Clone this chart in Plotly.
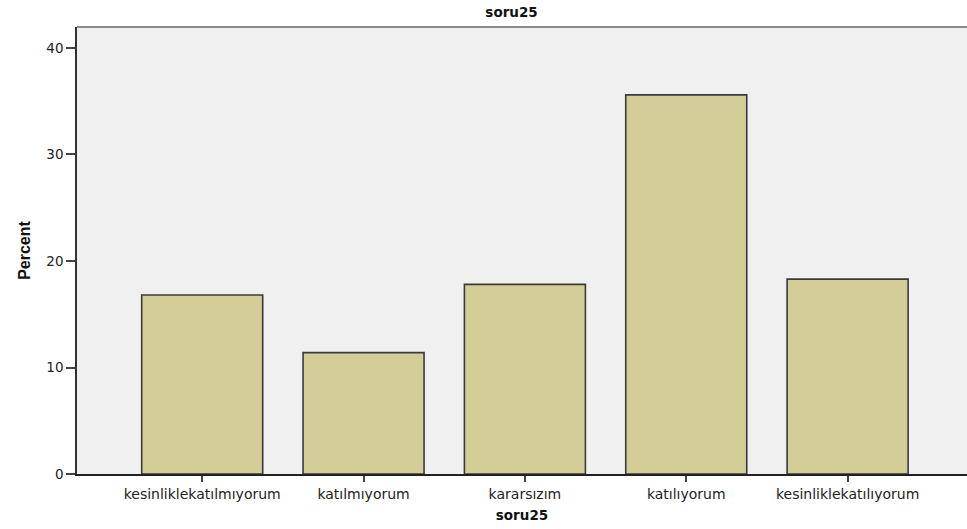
import plotly.graph_objects as go

categories = ["kesinliklekatılmıyorum", "katılmıyorum", "kararsızım", "katılıyorum", "kesinliklekatılıyorum"]
percent = [16.8, 11.4, 17.8, 35.6, 18.3]
y_ticks = [0, 10, 20, 30, 40]

fig = go.Figure(go.Bar(
    x=list(range(len(categories))),
    y=percent,
    width=0.75,
    marker=dict(color="#d3cd97", line=dict(color="#3a3a3a", width=1.6)),
))

fig.update_layout(
    width=967, height=529,
    margin=dict(l=77, r=0, t=27, b=55),
    paper_bgcolor="white",
    plot_bgcolor="#f0f0f0",
    font=dict(family="DejaVu Sans, sans-serif", color="#222"),
    title=dict(text="<b>soru25</b>", x=0.529, xanchor="center", y=0.977, yanchor="middle",
               font=dict(size=13.5, color="#111", family="DejaVu Sans")),
    showlegend=False,
)
fig.update_xaxes(
    range=[-0.776, 4.74],
    tickmode="array", tickvals=list(range(len(categories))), ticktext=categories,
    ticks="outside", ticklen=6, tickwidth=2, tickcolor="#444",
    showline=True, linecolor="#222", linewidth=1.5,
    showgrid=False, zeroline=False,
    tickfont=dict(size=14, color="#222"),
    title=dict(text="<b>soru25</b>", font=dict(size=13.5, color="#111"), standoff=10),
)
fig.update_yaxes(
    range=[0, 41.97],
    tickmode="array", tickvals=y_ticks,
    ticks="outside", ticklen=9, tickwidth=1.5, tickcolor="#444",
    showline=True, linecolor="#333", linewidth=1.5,
    showgrid=False, zeroline=False,
    tickfont=dict(size=13.5, color="#222"),
    title=dict(text="<b>Percent</b>",
               font=dict(size=16, color="#111", family="Liberation Sans"),
               standoff=12),
)
fig.add_shape(type="line", xref="paper", yref="paper", x0=0, x1=1, y0=1, y1=1,
              line=dict(color="#8a8a8a", width=2))

fig.write_html("out.html", config={"displayModeBar": False},
               post_script="document.body.style.margin='0';")
